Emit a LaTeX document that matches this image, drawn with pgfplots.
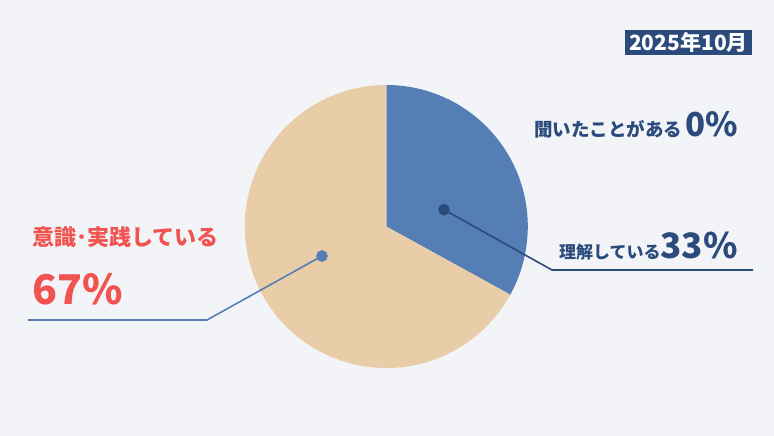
\documentclass[border=0pt]{standalone}
\usepackage{pgfplots}
\usepackage{pgfplotstable}
\usepackage{fontspec}
\pgfplotsset{compat=1.18}
\setmainfont{Noto Sans CJK JP}

\definecolor{bg}{HTML}{F3F4F7}
\definecolor{pieblue}{HTML}{557EB5}
\definecolor{piebeige}{HTML}{E8CDA8}
\definecolor{navy}{HTML}{2B4B7C}
\definecolor{red}{HTML}{F05350}

% share of answers (%)
\pgfplotstableread{
label value
heard 0
understand 33
practice 67
}\piedata

\begin{document}%
\pgfplotstablegetelem{1}{value}\of\piedata
\edef\vunder{\pgfplotsretval}%
\pgfplotstablegetelem{2}{value}\of\piedata
\edef\vpract{\pgfplotsretval}%
\begin{tikzpicture}
\begin{axis}[
  scale only axis,
  width=774pt, height=436pt,
  xmin=0, xmax=774, ymin=0, ymax=436,
  hide axis, clip=false,
]
\coordinate (ll) at (axis cs:0,0);
\coordinate (ur) at (axis cs:774,436);
% background, generously oversized
\fill[bg] (axis cs:-40,-40) rectangle (axis cs:814,476);

% pie (centre 386.3,209.5, radius 141.5)
\fill[pieblue] (axis cs:386.3,209.5) -- ++(90:141.5pt)
  arc[start angle=90, end angle={90-\vunder*3.6}, radius=141.5pt] -- cycle;
\fill[piebeige] (axis cs:386.3,209.5) -- ++({90-\vunder*3.6}:141.5pt)
  arc[start angle={90-\vunder*3.6}, end angle={90-\vunder*3.6-\vpract*3.6}, radius=141.5pt] -- cycle;

% leader lines
\addplot[navy, line width=1.6pt, mark=*, mark size=5pt, mark indices={1}]
  coordinates {(444,226.3) (552,166) (753,166)};
\addplot[pieblue, line width=1.6pt, mark=*, mark size=5pt, mark indices={1}]
  coordinates {(322,180) (207,116) (28,116)};

% date badge
\node[fill=navy, text=white, font=\bfseries\fontsize{21}{21}\selectfont,
  inner xsep=4pt, inner ysep=0pt, minimum height=25pt, anchor=north east]
  at (axis cs:752,406) {2025年10月};

% labels
\node[anchor=base east, text=navy, inner sep=0pt]
  at (axis cs:738,299) {\bfseries\fontsize{18.5}{18.5}\selectfont 聞いたことがある\,\fontsize{33}{33}\selectfont 0\%};
\node[anchor=base east, text=navy, inner sep=0pt]
  at (axis cs:738,177) {\bfseries\fontsize{17}{17}\selectfont 理解している\fontsize{35}{35}\selectfont 33\%};
\node[anchor=base west, text=red, inner sep=0pt]
  at (axis cs:32,190) {\bfseries\fontsize{22}{22}\selectfont 意識･実践している};
\node[anchor=base west, text=red, inner sep=0pt]
  at (axis cs:32,131) {\bfseries\fontsize{41}{41}\selectfont 67\%};
\end{axis}
\pgfresetboundingbox
\path[use as bounding box] (ll) rectangle (ur);
\end{tikzpicture}%
\end{document}
